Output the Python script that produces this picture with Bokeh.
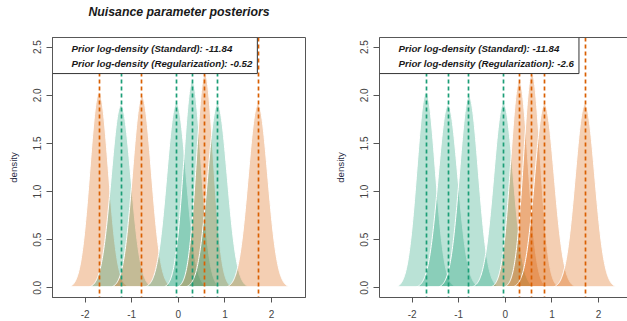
import numpy as np
from bokeh.plotting import figure
from bokeh.layouts import row
from bokeh.models import Label, FixedTicker, LinearAxis
from bokeh.embed import file_html
from bokeh.resources import INLINE

# ---------------- data ----------------
title_text = "Nuisance parameter posteriors"
posterior_means = [-1.70, -1.23, -0.78, -0.04, 0.30, 0.57, 0.84, 1.71]
posterior_peaks = [2.03, 1.90, 1.99, 1.92, 2.15, 2.23, 1.91, 1.91]
groups_left = ["orange", "green", "orange", "green", "green", "orange", "green", "orange"]
groups_right = ["green", "green", "green", "green", "orange", "orange", "orange", "orange"]
legend_left = ["Prior log-density (Standard): -11.84",
               "Prior log-density (Regularization): -0.52"]
legend_right = ["Prior log-density (Standard): -11.84",
                "Prior log-density (Regularization): -2.6"]
x_ticks = [-2, -1, 0, 1, 2]
x_tick_labels = ["-2", "-1", "0", "1", "2"]
y_ticks = [0.0, 0.5, 1.0, 1.5, 2.0, 2.5]
y_tick_labels = ["0.0", "0.5", "1.0", "1.5", "2.0", "2.5"]
y_label = "density"

palette = {"orange": "#D95F02", "green": "#1B9E77"}
FONT = "Liberation Sans"
AXIS_COL = "#555555"
X_START = -2.70
Y_START, Y_END = -0.1, 2.6
PX_PER_UNIT = 46.6


def density_curve(mean, peak):
    sd = 1.0 / (peak * np.sqrt(2 * np.pi))
    xs = np.linspace(mean - 3.2 * sd, mean + 3.2 * sd, 160)
    ys = peak * np.exp(-0.5 * ((xs - mean) / sd) ** 2)
    return list(xs), list(ys)


def make_panel(groups, legend_lines, width, left_border, right_border, title=None, outline=True):
    frame_w = width - left_border - right_border
    x_end = X_START + frame_w / PX_PER_UNIT
    p = figure(width=width, height=321, x_range=(X_START, x_end), y_range=(Y_START, Y_END),
               output_backend="svg", toolbar_location=None,
               min_border_left=left_border, min_border_right=right_border,
               min_border_top=36, min_border_bottom=24)
    p.background_fill_color = "white"
    p.border_fill_color = "white"
    p.xgrid.visible = False
    p.ygrid.visible = False

    xs_list, ys_list, fills = [], [], []
    for m, pk, g in zip(posterior_means, posterior_peaks, groups):
        xs, ys = density_curve(m, pk)
        xs_list.append(xs)
        ys_list.append(ys)
        fills.append(palette[g])
    p.patches(xs_list, ys_list, fill_color=fills, fill_alpha=0.3,
              line_color="white", line_width=1)

    line_cols = [palette[g] for g in groups]
    p.vspan(x=posterior_means, line_color=line_cols, line_width=1.7, line_dash="4 3")

    # axes
    xax = p.below[0]
    yax = p.left[0]
    xax.ticker = FixedTicker(ticks=x_ticks)
    xax.major_label_overrides = {t: l for t, l in zip(x_ticks, x_tick_labels)}
    yax.ticker = FixedTicker(ticks=y_ticks)
    yax.major_label_overrides = {t: l for t, l in zip(y_ticks, y_tick_labels)}
    yax.axis_label = y_label
    for ax in (xax, yax):
        ax.axis_line_color = AXIS_COL
        ax.major_tick_line_color = AXIS_COL
        ax.major_tick_in = 0
        ax.major_tick_out = 6
        ax.minor_tick_line_color = None
        ax.major_label_text_font = FONT
        ax.major_label_text_font_size = "10px"
        ax.major_label_text_color = "#444444"
        ax.major_label_standoff = 5
    xax.major_tick_out = 5
    xax.major_label_standoff = 7
    yax.major_label_orientation = "vertical"
    yax.axis_label_text_font = FONT
    yax.axis_label_text_font_size = "9.7px"
    yax.axis_label_text_font_style = "normal"
    yax.axis_label_text_color = "#2a2d45"
    yax.axis_label_standoff = 12

    if outline:
        p.outline_line_color = AXIS_COL
        p.outline_line_width = 1
    else:
        # right edge of this panel falls outside the window: draw only the top edge
        p.outline_line_color = None
        top = LinearAxis(ticker=FixedTicker(ticks=[]), axis_line_color=AXIS_COL,
                         major_tick_line_color=None, minor_tick_line_color=None,
                         major_label_text_color=None, major_label_text_font_size="0px",
                         major_tick_out=0, major_tick_in=0, major_label_standoff=0)
        p.add_layout(top, "above")

    if title:
        # second (blank) line lifts the title away from the plot box, as in the reference
        p.title.text = title + "\n "
        p.title.text_font = FONT
        p.title.text_font_style = "bold italic"
        p.title.text_font_size = "12.3px"
        p.title.text_color = "#1a1a1a"
        p.title.text_line_height = 1.2
        p.title.align = "center"
        p.title.vertical_align = "bottom"
        p.title.standoff = 4

    lab = Label(x=X_START, y=Y_END, x_units="data", y_units="data", anchor="top_left",
                text="\n".join(legend_lines), text_font=FONT,
                text_font_style="bold italic", text_font_size="9.7px",
                text_color="#1a1a1a", text_line_height=1.37, text_align="left",
                background_fill_color="white", border_line_color="#333333",
                border_line_width=1, padding=(19, 5, 5, 5))
    p.add_layout(lab)
    return p


p1 = make_panel(groups_left, legend_left, 313, 52, 8, title=title_text, outline=True)
p2 = make_panel(groups_right, legend_right, 314, 66, 0, title=None, outline=False)

layout = row(p1, p2)
open("out.html", "w").write(file_html(layout, INLINE))
